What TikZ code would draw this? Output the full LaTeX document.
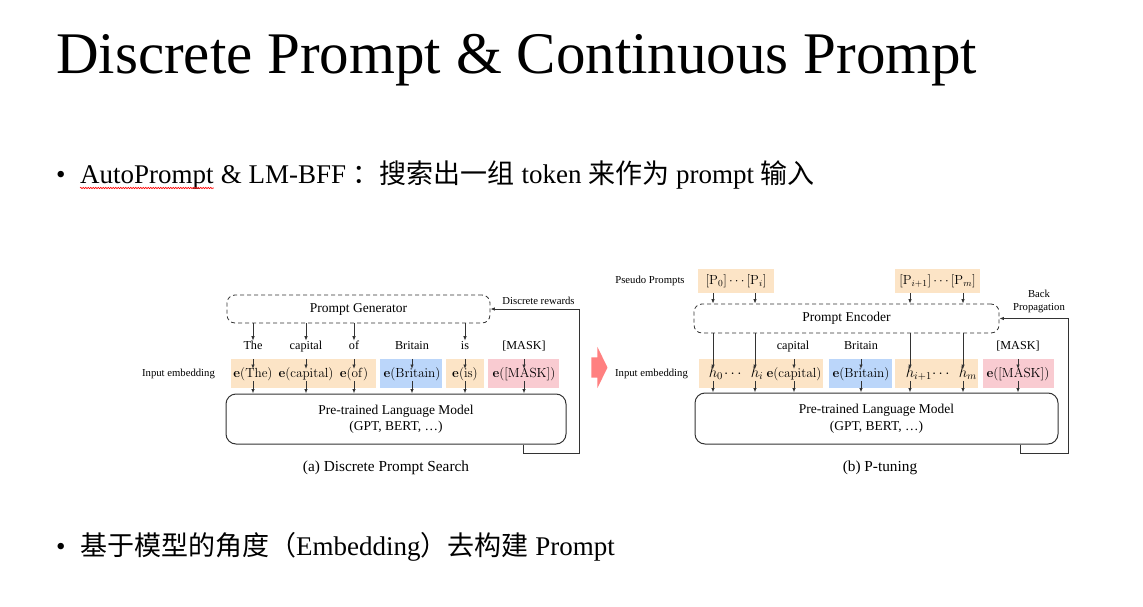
\RequirePackage{fix-cm}
\documentclass[tikz,border=0pt]{standalone}
\usepackage{mathtools}
\usepackage[no-math]{fontspec}
\setmainfont{Liberation Serif}
\newfontfamily\cjk{Noto Sans CJK SC}
\usetikzlibrary{arrows.meta,positioning,shapes.arrows,decorations.pathmorphing}

\definecolor{embOrange}{HTML}{FCE4C6}
\definecolor{embBlue}{HTML}{BBD6FA}
\definecolor{embPink}{HTML}{F9CBD1}
\definecolor{arrowPink}{HTML}{FF8080}
\definecolor{lineGray}{HTML}{333333}

\tikzset{
  flow/.style={-{Latex[length=4.5pt,width=3.5pt]}, line width=0.8pt, lineGray},
  dashbox/.style={draw=lineGray, line width=0.8pt, dash pattern=on 4pt off 3pt,
    rounded corners=8pt, font=\fontsize{13.5}{16}\selectfont},
  lmbox/.style={draw=lineGray, line width=1pt, rounded corners=10pt, align=center,
    font=\fontsize{13.5}{16.5}\selectfont},
  embfill/.style={inner sep=0pt, minimum height=29pt},
  etext/.style={inner sep=1pt, text height=0.72em, text depth=0.24em,
    font=\fontsize{13.2}{15}\selectfont},
  htext/.style={etext, font=\fontsize{15}{18}\selectfont, text height=0.74em, text depth=0.2em},
  word/.style={inner sep=1.5pt, text height=0.7em, text depth=0.22em,
    font=\fontsize{12.2}{14}\selectfont},
  tag/.style={font=\fontsize{10.7}{12.5}\selectfont, align=center},
  caption/.style={font=\fontsize{15.3}{18}\selectfont},
  slide/.style={anchor=base west, inner sep=0pt, font=\fontsize{27}{32}\selectfont}
}

\begin{document}
\begin{tikzpicture}[x=1pt,y=-1pt]
  \useasboundingbox (0,0) rectangle (1143,607);

  % Slide text
  \node[anchor=base west, inner sep=0pt, font=\fontsize{59}{70}\selectfont] (title) at (56,74)
    {Discrete Prompt \& Continuous Prompt};
  \node[slide] (dotA) at (56,183) {•};
  \node[slide] (autop) at (80,183) {AutoPrompt};
  \node[slide] (lineA) at (autop.base east)
    {\ \& LM-BFF {\cjk ：搜索出一组} token {\cjk 来作为} prompt {\cjk 输入}};
  \draw[red, line width=0.6pt, decorate, decoration={snake, amplitude=0.7pt, segment length=2.5pt}]
    ([yshift=-5pt]autop.base west) -- ([yshift=-5pt]autop.base east);
  \node[slide] (dotB) at (56,555) {•};
  \node[slide] (lineB) at (80,555)
    {{\cjk 基于模型的角度（}Embedding{\cjk ）去构建} Prompt};

  % (a) Discrete Prompt Search
  \node[embfill, fill=embOrange, minimum width=145pt] (embL1) at (303.5,373.5) {};
  \node[embfill, fill=embBlue, minimum width=62pt] (embL2) at (411,373.5) {};
  \node[embfill, fill=embOrange, minimum width=38pt] (embL3) at (465,373.5) {};
  \node[embfill, fill=embPink, minimum width=71pt] (embL4) at (523.5,373.5) {};

  \node[dashbox, minimum width=263pt, minimum height=28pt] (gen) at (358.5,309) {Prompt Generator};
  \node[lmbox, minimum width=340pt, minimum height=50pt] (plmL) at (396,419)
    {Pre-trained Language Model\\(GPT, BERT, \dots)};

  \node[word] (wThe) at (253,347) {The};
  \node[word] (wCap) at (306,347) {capital};
  \node[word] (wOf) at (354,347) {of};
  \node[word] (wBrit) at (412,347) {Britain};
  \node[word] (wIs) at (465,347) {is};
  \node[word] (wMask) at (524,347) {[MASK]};

  \node[etext] (eThe) at (253,375) {$\mathbf{e}(\mathrm{The})$};
  \node[etext] (eCap) at (306,375) {$\mathbf{e}(\mathrm{capital})$};
  \node[etext] (eOf) at (354,375) {$\mathbf{e}(\mathrm{of})$};
  \node[etext] (eBrit) at (412,375) {$\mathbf{e}(\mathrm{Britain})$};
  \node[etext] (eIs) at (465,375) {$\mathbf{e}(\mathrm{is})$};
  \node[etext] (eMask) at (524,375) {$\mathbf{e}([\mathrm{MASK}])$};

  \node[tag] (inL) at (178.5,374) {Input embedding};
  \node[tag] (reward) at (538.5,301) {Discrete rewards};
  \node[caption] (capA) at (386,468) {(a) Discrete Prompt Search};
  \coordinate (fbL) at (523,453);
  \coordinate (fbR) at (579,453);

  % Connect the nodes
  \foreach \w in {wThe,wCap,wOf,wIs}
    \draw[flow] (gen.south -| \w) -- (\w.north);
  \foreach \e/\b in {eThe/embL1,eCap/embL1,eOf/embL1,eBrit/embL2,eIs/embL3,eMask/embL4}
    \draw[flow] (\b.north -| \e) -- (\e.north);
  \foreach \e in {eThe,eCap,eOf,eBrit,eIs,eMask}
    \draw[flow] (\e.south) -- (plmL.north -| \e);
  \draw[flow] (plmL.south -| fbL) |- (fbR) |- (gen.east);

  % Arrow between the panels
  \node[single arrow, fill=arrowPink, inner xsep=0pt, inner ysep=10pt, minimum height=16pt,
    single arrow head extend=10.5pt, single arrow tip angle=128] (turn) at (597,367.5) {};

  % (b) P-tuning
  \node[embfill, fill=embOrange, minimum width=76pt, minimum height=24pt] (pA) at (736,281)
    {\fontsize{13.2}{15}\selectfont$[\mathrm{P}_0]\cdots[\mathrm{P}_i]$};
  \node[embfill, fill=embOrange, minimum width=85pt, minimum height=24pt] (pB) at (937.5,281)
    {\fontsize{13.2}{15}\selectfont$[\mathrm{P}_{i+1}]\cdots[\mathrm{P}_m]$};
  \node[embfill, fill=embOrange, minimum width=124pt] (embR1) at (761,373.5) {};
  \node[embfill, fill=embBlue, minimum width=63pt] (embR2) at (860.5,373.5) {};
  \node[embfill, fill=embOrange, minimum width=83pt] (embR3) at (936.5,373.5) {};
  \node[embfill, fill=embPink, minimum width=71pt] (embR4) at (1018.5,373.5) {};

  \node[dashbox, minimum width=305pt, minimum height=29pt] (enc) at (846.5,318.5) {Prompt Encoder};
  \node[lmbox, minimum width=363pt, minimum height=51pt] (plmR) at (876.5,418.5)
    {Pre-trained Language Model\\(GPT, BERT, \dots)};

  \node[word] (wCapR) at (793,347) {capital};
  \node[word] (wBritR) at (861,347) {Britain};
  \node[word] (wMaskR) at (1018,347) {[MASK]};

  \node[htext] (h0) at (713,375) {$h\mathrlap{_0}$};
  \node[htext] (dotsA) at (734,375) {$\cdots$};
  \node[htext] (hi) at (755,375) {$h\mathrlap{_i}$};
  \node[etext] (eCapR) at (794,375) {$\mathbf{e}(\mathrm{capital})$};
  \node[etext] (eBritR) at (861,375) {$\mathbf{e}(\mathrm{Britain})$};
  \node[htext] (hip) at (910,375) {$h\mathrlap{_{i+1}}$};
  \node[htext] (dotsB) at (942,375) {$\cdots$};
  \node[htext] (hm) at (963,375) {$h\mathrlap{_m}$};
  \node[etext] (eMaskR) at (1018,375) {$\mathbf{e}([\mathrm{MASK}])$};

  \node[tag] (pseudo) at (650,281) {Pseudo Prompts};
  \node[tag] (inR) at (651.5,374) {Input embedding};
  \node[tag] (backprop) at (1039,301.5) {Back\\Propagation};
  \node[caption] (capB) at (880,468) {(b) P-tuning};
  \coordinate (fbL2) at (1020,453);
  \coordinate (fbR2) at (1068,453);

  % Connect the nodes
  \foreach \h/\p in {h0/pA,hi/pA,hip/pB,hm/pB}{
    \draw[flow] (\p.south -| \h) -- (enc.north -| \h);
    \draw[flow] (enc.south -| \h) -- (\h.north);
  }
  \foreach \w/\e/\b in {wCapR/eCapR/embR1,wBritR/eBritR/embR2,wMaskR/eMaskR/embR4}
    \draw[flow] (\b.north -| \e) -- (\e.north);
  \foreach \e in {h0,hi,eCapR,eBritR,hip,hm,eMaskR}
    \draw[flow] (\e.south) -- (plmR.north -| \e);
  \draw[flow] (plmR.south -| fbL2) |- (fbR2) |- (enc.east);
\end{tikzpicture}
\end{document}
